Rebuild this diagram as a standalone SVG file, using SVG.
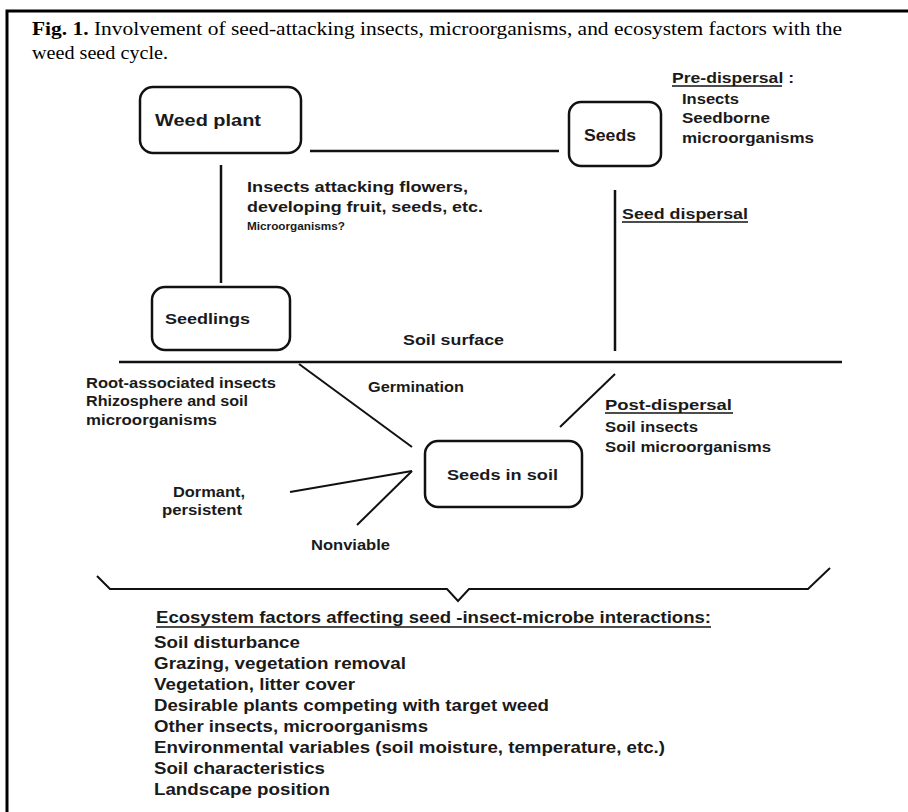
<svg xmlns="http://www.w3.org/2000/svg" width="908" height="812" viewBox="0 0 908 812">
<style>
.t{font-family:"Liberation Serif","Times New Roman",serif;font-size:18.5px;fill:#000}
.b{font-family:"Liberation Sans",Arial,sans-serif;font-weight:bold;fill:#1a1a1a}
.box{fill:#fff;stroke:#111;stroke-width:2.5}
.ln{stroke:#111;stroke-width:2.5;fill:none}
.dg{stroke:#111;stroke-width:2;fill:none}
.u{stroke:#111;stroke-width:1.3}
</style>
<rect width="908" height="812" fill="#fff"/>
<path d="M7 812 V11 H908" fill="none" stroke="#000" stroke-width="3"/>
<g id="title">
<text class="t" x="32" y="35" textLength="810" lengthAdjust="spacingAndGlyphs"><tspan font-weight="bold">Fig. 1.</tspan> Involvement of seed-attacking insects, microorganisms, and ecosystem factors with the</text>
<text class="t" x="32" y="59" textLength="136" lengthAdjust="spacingAndGlyphs">weed seed cycle.</text>
</g>
<g id="connectors">
<line class="ln" x1="310" y1="151" x2="559" y2="151"/>
<line class="ln" x1="221" y1="165" x2="221" y2="283"/>
<line class="ln" x1="615" y1="190" x2="615" y2="351"/>
<line class="ln" x1="119" y1="362" x2="842" y2="362" stroke-width="3"/>
<line class="dg" x1="299" y1="364" x2="412" y2="447"/>
<line class="dg" x1="615" y1="374" x2="560" y2="427"/>
<line class="dg" x1="290" y1="492" x2="412" y2="471"/>
<line class="dg" x1="412" y1="471" x2="357" y2="525"/>
<path class="dg" d="M97 576 L110 589 H447 L458 601 L469 589 H808 L830 568"/>
</g>
<g id="weed-plant">
<rect class="box" x="140" y="87" width="161" height="66" rx="13"/>
<text class="b" x="155" y="126" font-size="16.5" textLength="106" lengthAdjust="spacingAndGlyphs">Weed plant</text>
</g>
<g id="seeds">
<rect class="box" x="569" y="102" width="92" height="64" rx="12"/>
<text class="b" x="584" y="141" font-size="16" textLength="52" lengthAdjust="spacingAndGlyphs">Seeds</text>
</g>
<g id="seedlings">
<rect class="box" x="152" y="287" width="138" height="63" rx="13"/>
<text class="b" x="165" y="324" font-size="15.5" textLength="85" lengthAdjust="spacingAndGlyphs">Seedlings</text>
</g>
<g id="seeds-in-soil">
<rect class="box" x="425" y="441" width="157" height="66" rx="13"/>
<text class="b" x="447" y="480" font-size="15.5" textLength="111" lengthAdjust="spacingAndGlyphs">Seeds in soil</text>
</g>
<g id="labels">
<text class="b" x="247" y="192" font-size="15" textLength="221" lengthAdjust="spacingAndGlyphs">Insects attacking flowers,</text>
<text class="b" x="247" y="212" font-size="15" textLength="236" lengthAdjust="spacingAndGlyphs">developing fruit, seeds, etc.</text>
<text class="b" x="247" y="230" font-size="11" textLength="98" lengthAdjust="spacingAndGlyphs">Microorganisms?</text>
<text class="b" x="672" y="83" font-size="15" textLength="122" lengthAdjust="spacingAndGlyphs">Pre-dispersal :</text>
<line class="u" x1="672" y1="86" x2="782" y2="86"/>
<text class="b" x="682" y="104" font-size="14" textLength="57" lengthAdjust="spacingAndGlyphs">Insects</text>
<text class="b" x="682" y="123" font-size="14" textLength="88" lengthAdjust="spacingAndGlyphs">Seedborne</text>
<text class="b" x="682" y="143" font-size="14" textLength="132" lengthAdjust="spacingAndGlyphs">microorganisms</text>
<text class="b" x="622" y="219" font-size="15" textLength="126" lengthAdjust="spacingAndGlyphs">Seed dispersal</text>
<line class="u" x1="622" y1="222" x2="748" y2="222"/>
<text class="b" x="403" y="345" font-size="15" textLength="101" lengthAdjust="spacingAndGlyphs">Soil surface</text>
<text class="b" x="368" y="392" font-size="14" textLength="96" lengthAdjust="spacingAndGlyphs">Germination</text>
<text class="b" x="86" y="388" font-size="14" textLength="190" lengthAdjust="spacingAndGlyphs">Root-associated insects</text>
<text class="b" x="86" y="406" font-size="14" textLength="162" lengthAdjust="spacingAndGlyphs">Rhizosphere and soil</text>
<text class="b" x="86" y="425" font-size="14" textLength="131" lengthAdjust="spacingAndGlyphs">microorganisms</text>
<text class="b" x="605" y="410" font-size="15" textLength="127" lengthAdjust="spacingAndGlyphs">Post-dispersal</text>
<line class="u" x1="605" y1="413" x2="733" y2="413"/>
<text class="b" x="605" y="432" font-size="14" textLength="93" lengthAdjust="spacingAndGlyphs">Soil insects</text>
<text class="b" x="605" y="452" font-size="14" textLength="166" lengthAdjust="spacingAndGlyphs">Soil microorganisms</text>
<text class="b" x="173" y="497" font-size="14" textLength="72" lengthAdjust="spacingAndGlyphs">Dormant,</text>
<text class="b" x="162" y="515" font-size="14" textLength="80" lengthAdjust="spacingAndGlyphs">persistent</text>
<text class="b" x="311" y="550" font-size="14" textLength="79" lengthAdjust="spacingAndGlyphs">Nonviable</text>
</g>
<g id="ecosystem-factors">
<text class="b" x="156" y="623" font-size="16" textLength="555" lengthAdjust="spacingAndGlyphs">Ecosystem factors affecting seed -insect-microbe interactions:</text>
<line class="u" x1="156" y1="627" x2="711" y2="627"/>
<text class="b" x="154" y="648" font-size="16" textLength="146" lengthAdjust="spacingAndGlyphs">Soil disturbance</text>
<text class="b" x="154" y="669" font-size="16" textLength="252" lengthAdjust="spacingAndGlyphs">Grazing, vegetation removal</text>
<text class="b" x="154" y="690" font-size="16" textLength="201" lengthAdjust="spacingAndGlyphs">Vegetation, litter cover</text>
<text class="b" x="154" y="711" font-size="16" textLength="395" lengthAdjust="spacingAndGlyphs">Desirable plants competing with target weed</text>
<text class="b" x="154" y="732" font-size="16" textLength="274" lengthAdjust="spacingAndGlyphs">Other insects, microorganisms</text>
<text class="b" x="154" y="753" font-size="16" textLength="511" lengthAdjust="spacingAndGlyphs">Environmental variables (soil moisture, temperature, etc.)</text>
<text class="b" x="154" y="774" font-size="16" textLength="171" lengthAdjust="spacingAndGlyphs">Soil characteristics</text>
<text class="b" x="154" y="795" font-size="16" textLength="176" lengthAdjust="spacingAndGlyphs">Landscape position</text>
</g>
</svg>
